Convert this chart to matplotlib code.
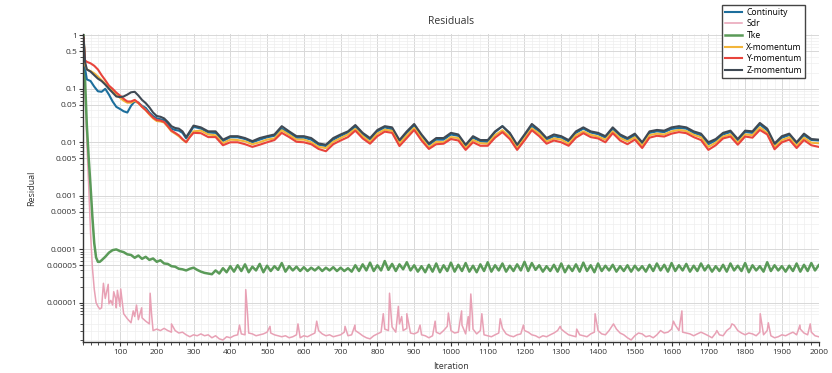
import numpy as np
import matplotlib.pyplot as plt
from matplotlib.ticker import FixedLocator, FixedFormatter, LogLocator, MultipleLocator

plt.rcParams['font.family'] = ['Open Sans', 'DejaVu Sans']

# iterations logged for the flow residuals (dense early, every 20 later)
res_iter = [1, 5] + list(range(10, 301, 10)) + list(range(320, 2001, 20))

# residual values in units of 1e-4
continuity = [9000, 2400, 1500, 1400, 1100, 900, 880, 1000, 780, 580, 460, 420, 380, 360, 480, 580,
              550, 480, 440, 360, 310, 280, 270, 260, 220, 180, 170, 165, 150, 118, 150, 195,
              180, 152, 150, 106, 124, 124, 115, 100, 112, 124,
              132, 180, 150, 122, 122, 112, 90, 85, 112, 132,
              152, 195, 140, 112, 160, 190, 175, 100, 150, 205,
              130, 90, 112, 112, 140, 132, 85, 122, 104, 102,
              155, 200, 145, 86, 130, 200, 160, 112, 130, 122,
              104, 150, 180, 152, 142, 122, 178, 132, 112, 135,
              95, 150, 160, 155, 178, 185, 180, 150, 135, 92,
              108, 140, 155, 108, 155, 150, 215, 168, 90, 122,
              136, 95, 135, 110, 108]
x_mom = [9000, 2800, 2300, 2150, 1950, 1700, 1450, 1250, 1050, 900, 780, 680, 600, 550, 550, 600,
         540, 460, 400, 330, 280, 250, 245, 235, 195, 160, 145, 130, 112, 100, 128, 160,
         165, 140, 135, 96, 112, 110, 104, 92, 100, 112,
         118, 168, 138, 112, 112, 100, 82, 78, 102, 120,
         140, 178, 130, 102, 146, 172, 164, 95, 135, 186,
         120, 80, 102, 100, 125, 120, 78, 110, 96, 94,
         136, 168, 128, 78, 118, 182, 145, 104, 118, 112,
         94, 136, 160, 138, 128, 112, 160, 120, 104, 124,
         86, 136, 145, 140, 160, 170, 162, 138, 124, 82,
         98, 128, 140, 98, 140, 136, 190, 150, 82, 110,
         124, 86, 122, 98, 96]
y_mom = [9000, 3400, 3200, 3000, 2700, 2300, 1800, 1450, 1150, 1000, 850, 750, 650, 580, 580, 620,
         550, 460, 400, 340, 290, 260, 255, 240, 200, 165, 150, 135, 115, 100, 125, 150,
         148, 125, 125, 88, 100, 100, 92, 82, 90, 100,
         110, 150, 125, 102, 100, 92, 75, 68, 92, 108,
         125, 165, 118, 94, 130, 158, 150, 85, 120, 170,
         108, 75, 92, 94, 115, 108, 72, 100, 86, 86,
         122, 155, 115, 72, 108, 168, 130, 94, 108, 100,
         86, 122, 148, 125, 118, 100, 148, 108, 92, 112,
         78, 122, 132, 128, 145, 155, 148, 125, 110, 72,
         88, 118, 128, 90, 128, 122, 170, 140, 74, 100,
         112, 78, 110, 88, 82]
z_mom = [9000, 3200, 2300, 2100, 1800, 1550, 1400, 1200, 1000, 850, 720, 700, 720, 780, 860, 880,
         750, 620, 540, 450, 360, 310, 300, 280, 240, 200, 185, 180, 160, 125, 160, 205,
         190, 160, 160, 112, 130, 130, 120, 105, 120, 130,
         140, 200, 160, 130, 130, 120, 95, 90, 120, 140,
         160, 210, 150, 120, 170, 200, 190, 110, 160, 220,
         140, 95, 120, 120, 150, 140, 90, 130, 110, 110,
         160, 200, 150, 90, 140, 220, 170, 120, 140, 130,
         110, 160, 190, 160, 150, 130, 190, 140, 120, 145,
         100, 160, 170, 165, 190, 200, 190, 160, 145, 100,
         115, 150, 165, 115, 165, 160, 230, 180, 95, 130,
         145, 100, 145, 115, 112]

# turbulence residuals: startup iterations, then every 10
turb_iter = [1, 5, 10, 15, 20, 25, 30, 35, 40, 45] + list(range(50, 2001, 10))

# Tke in units of 1e-6
tke = [1000000, 150000, 20000, 5000, 1500, 400, 130, 70, 58, 58,
       62, 72, 86, 96, 99, 92, 88, 80, 78, 69,
       76, 66, 72, 63, 67, 58, 62, 54, 53, 48,
       47, 43, 42, 40, 43, 45, 41, 38, 36, 35,
       34, 40, 35, 44, 37, 48, 38, 50, 39, 52,
       37, 47, 40, 53, 37, 49, 39, 48, 41, 55,
       38, 48, 40, 47, 39, 46, 39, 45, 40, 46,
       39, 45, 40, 46, 39, 45, 39, 44, 38, 50,
       39, 52, 40, 56, 39, 50, 40, 60, 41, 53,
       39, 52, 42, 57, 40, 50, 38, 48, 37, 51,
       38, 54, 37, 50, 39, 56, 38, 51, 39, 55,
       38, 49, 37, 52, 39, 57, 38, 50, 40, 54,
       38, 49, 39, 52, 40, 58, 39, 55, 41, 50,
       38, 48, 39, 51, 38, 54, 37, 49, 39, 52,
       38, 56, 39, 50, 37, 54, 39, 49, 40, 51,
       38, 48, 39, 50, 38, 49, 40, 48, 38, 51,
       39, 54, 40, 51, 38, 55, 39, 50, 40, 53,
       38, 49, 39, 54, 40, 50, 38, 48, 39, 51,
       38, 54, 40, 49, 39, 55, 37, 50, 40, 48,
       38, 57, 39, 50, 40, 48, 38, 49, 39, 54,
       38, 51, 39, 55, 40, 50]

# Sdr in units of 1e-7, plus the isolated spikes between logged points
sdr = [10000000, 1000000, 100000, 15000, 2000, 450, 180, 100, 85, 76,
       80, 120, 95, 90, 80, 85, 62, 50, 42, 55,
       48, 52, 45, 40, 30, 32, 30, 33, 30, 28,
       30, 27, 28, 25, 23, 25, 24, 26, 24, 25,
       22, 24, 21, 20, 23, 22, 24, 25, 26, 25,
       27, 26, 24, 25, 26, 28, 27, 25, 24, 23,
       24, 22, 23, 25, 22, 24, 23, 25, 27, 30,
       26, 24, 25, 23, 24, 25, 28, 24, 25, 30,
       27, 24, 22, 21, 24, 26, 28, 32, 30, 35,
       28, 40, 30, 33, 27, 26, 28, 25, 24, 22,
       24, 28, 26, 30, 36, 30, 27, 28, 38, 26,
       30, 32, 26, 30, 25, 24, 23, 25, 27, 33,
       26, 24, 23, 25, 26, 30, 28, 25, 24, 22,
       24, 23, 25, 27, 30, 32, 28, 25, 24, 23,
       25, 24, 23, 26, 28, 30, 26, 25, 30, 38,
       32, 27, 25, 22, 20, 24, 27, 26, 23, 24,
       22, 25, 30, 27, 28, 32, 38, 30, 28, 27,
       26, 24, 26, 28, 26, 24, 22, 27, 25, 24,
       30, 34, 38, 30, 27, 25, 27, 26, 24, 28,
       25, 30, 24, 22, 23, 25, 24, 26, 28, 25,
       32, 27, 25, 28, 24, 23]
sdr_spike_iter = [55, 68, 75, 83, 88, 93, 102, 136, 145, 159, 182, 186, 240, 425, 442, 447,
                  508, 584, 635, 712, 739, 816, 833, 838, 857, 866, 880, 916, 957, 993, 1029,
                  1047, 1054, 1058, 1084, 1134, 1197, 1297, 1342, 1392, 1442, 1605, 1628, 1723,
                  1764, 1841, 1863, 1949, 1977]
sdr_spike = [230, 220, 110, 160, 120, 170, 180, 70, 90, 80, 150, 60, 40, 38, 175, 60,
             36, 40, 45, 36, 38, 62, 150, 50, 85, 55, 62, 38, 45, 64, 70,
             55, 145, 60, 62, 50, 38, 36, 32, 62, 40, 45, 70, 30,
             40, 62, 42, 38, 40]

ytick_vals = [1, 0.5, 0.1, 0.05, 0.01, 0.005, 0.001, 0.0005, 0.0001, 0.00005, 0.00001]
ytick_text = ['1', '0.5', '0.1', '0.05', '0.01', '0.005', '0.001', '0.0005', '0.0001',
              '0.00005', '0.00001']

# merge Sdr spikes into the regular log
sdr_x = np.array(turb_iter + sdr_spike_iter)
sdr_y = np.array(sdr + sdr_spike) * 1e-7
order = np.argsort(sdr_x, kind='stable')
sdr_x, sdr_y = sdr_x[order], sdr_y[order]

fig = plt.figure(figsize=(8.32, 3.73), dpi=100)
ax = fig.add_axes([0.1, 0.0823, 0.884, 0.8265])

l_sdr, = ax.plot(sdr_x, sdr_y, color='#e8a1b5', lw=1.1, label='Sdr')
l_tke, = ax.plot(turb_iter, np.array(tke) * 1e-6, color='#5a9a58', lw=1.8, label='Tke')
l_con, = ax.plot(res_iter, np.array(continuity) * 1e-4, color='#1d6e9c', lw=1.5, label='Continuity')
l_x, = ax.plot(res_iter, np.array(x_mom) * 1e-4, color='#f2b53a', lw=1.5, label='X-momentum')
l_y, = ax.plot(res_iter, np.array(y_mom) * 1e-4, color='#e8443c', lw=1.5, label='Y-momentum')
l_z, = ax.plot(res_iter, np.array(z_mom) * 1e-4, color='#3f4954', lw=1.5, label='Z-momentum')

ax.set_yscale('log')
ax.set_ylim(1.81e-6, 1.06)
ax.set_xlim(0, 2000)

ax.yaxis.set_major_locator(FixedLocator(ytick_vals))
ax.yaxis.set_major_formatter(FixedFormatter(ytick_text))
ax.yaxis.set_minor_locator(LogLocator(base=10, subs=[2, 3, 4, 6, 7, 8, 9], numticks=20))
ax.set_xticks(range(100, 2001, 100))
ax.xaxis.set_minor_locator(MultipleLocator(20))

ax.grid(which='major', color='#d8d8d8', lw=0.7)
ax.grid(which='minor', color='#eeeeee', lw=0.5)
ax.set_axisbelow(True)

for side in ['top', 'right']:
    ax.spines[side].set_visible(False)
for side in ['left', 'bottom']:
    ax.spines[side].set_color('#333333')
    ax.spines[side].set_linewidth(1.0)

ax.tick_params(which='major', labelsize=6, length=3, width=0.8, colors='#333333', pad=1.5)
ax.tick_params(which='minor', length=2, width=0.6, colors='#333333')

ax.set_title('Residuals', fontsize=7.5, color='#333333', pad=7)
ax.set_xlabel('Iteration', fontsize=6.5, color='#333333', labelpad=5)
ax.set_ylabel('Residual', fontsize=6.5, color='#333333', labelpad=7)

fig.legend(handles=[l_con, l_sdr, l_tke, l_x, l_y, l_z], loc='upper right',
           bbox_to_anchor=(0.9675, 0.987), fontsize=6.2, frameon=True, fancybox=False,
           edgecolor='#444444', framealpha=1, handlelength=2.0, labelspacing=0.3,
           borderpad=0.35, handletextpad=0.5, borderaxespad=0)

fig.savefig('out.png', dpi=100)
